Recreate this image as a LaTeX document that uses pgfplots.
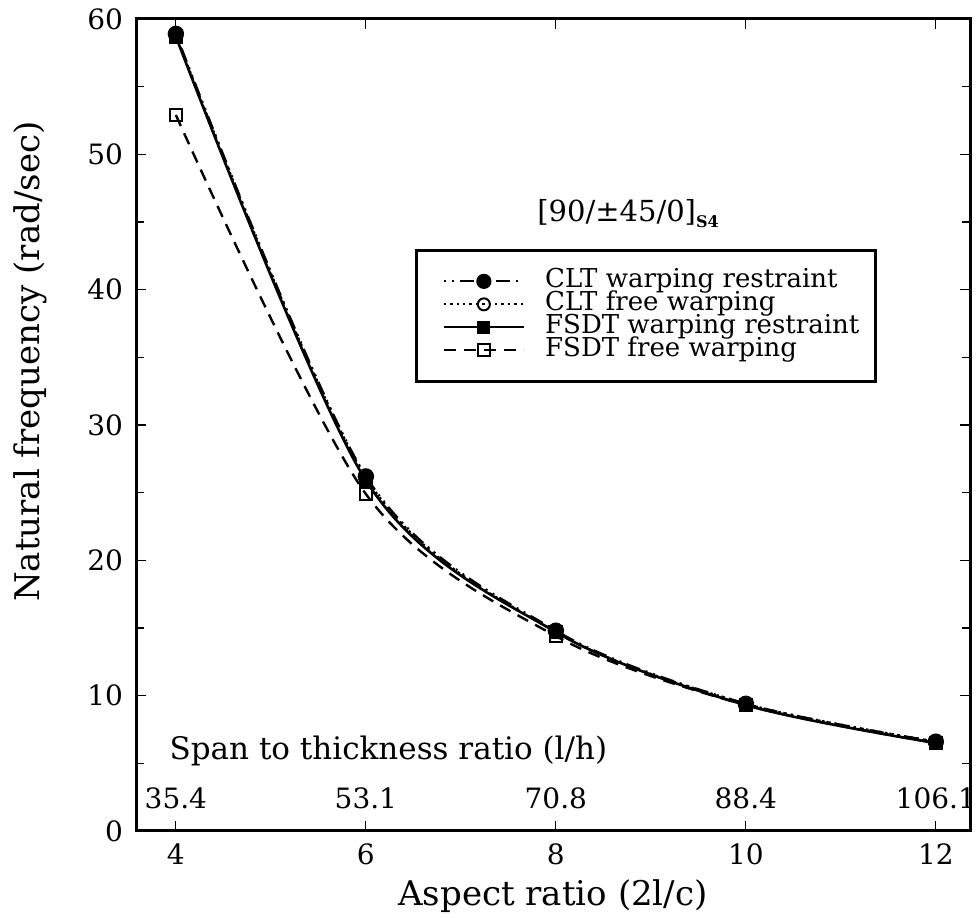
\documentclass[border=0pt]{standalone}
\usepackage{fontspec}
\setmainfont{DejaVu Serif}
\usepackage{pgfplots}
\pgfplotsset{compat=1.18}

\begin{document}
\begin{tikzpicture}
\begin{axis}[
  width=417pt, height=406pt,
  scale only axis,
  xmin=3.58, xmax=12.36,
  ymin=0, ymax=60,
  xtick={4,6,8,10,12},
  ytick={0,10,20,30,40,50,60},
  minor ytick={5,15,25,35,45,55},
  tick align=inside,
  major tick length=5pt,
  minor tick length=4pt,
  axis line style={line width=1.5pt},
  tick style={line width=0.6pt, black},
  every tick label/.append style={font=\fontsize{14}{16}\selectfont},
  xticklabel style={yshift=-3pt},
  yticklabel style={xshift=-3pt},
  /pgf/number format/assume math mode=true,
  xlabel={Aspect ratio (2l/c)},
  ylabel={Natural frequency (rad/sec)},
  label style={font=\fontsize{17}{20}\selectfont},
  xlabel style={at={(axis description cs:0.5,-0.08)}, anchor=center},
  ylabel style={at={(axis description cs:-0.127,0.578)}, anchor=center},
  legend style={
    at={(axis cs:6.52,43)}, anchor=north west,
    draw=black, line width=1.3pt,
    font=\fontsize{13}{14}\selectfont,
    inner xsep=6pt, inner ysep=10pt,
    row sep=0.5pt,
    nodes={inner xsep=2pt, inner ysep=0pt, text height=8.5pt, text depth=2.5pt},
  },
  legend cell align=left,
  legend image code/.code={
    \path (-7pt,0pt) (48pt,0pt);
    \draw[#1, line width=0.9pt] (0pt,0pt) -- (40pt,0pt);
    \draw[#1, solid, line width=0.6pt] plot coordinates {(20pt,0pt)};
  },
]

% CLT, warping restraint
\addplot[black, line width=1.2pt, smooth,
  dash pattern=on 1pt off 3pt on 1pt off 3pt on 7pt off 3pt,
  mark=*, mark size=3.5pt, mark options={solid, fill=black}]
  coordinates {(4,58.9) (6,26.2) (8,14.8) (10,9.4) (12,6.6)};
\addlegendentry{CLT warping restraint}

% CLT, free warping
\addplot[black, line width=1.2pt, smooth, dotted,
  mark=o, mark size=3pt, mark options={solid, line width=1pt}]
  coordinates {(4,58.8) (6,26.1) (8,14.7) (10,9.4) (12,6.6)};
\addlegendentry{CLT free warping}

% FSDT, warping restraint
\addplot[black, line width=1.3pt, smooth,
  mark=square*, mark size=3pt, mark options={solid, fill=black}]
  coordinates {(4,58.7) (6,25.9) (8,14.7) (10,9.3) (12,6.5)};
\addlegendentry{FSDT warping restraint}

% FSDT, free warping
\addplot[black, line width=1.2pt, smooth,
  dash pattern=on 6pt off 4pt,
  mark=square, mark size=3pt, mark options={solid, line width=1pt, fill=white}]
  coordinates {(4,52.9) (6,24.9) (8,14.4) (10,9.3) (12,6.5)};
\addlegendentry{FSDT free warping}

% secondary scale: span to thickness ratio
\node[anchor=west, font=\fontsize{15.5}{18}\selectfont] at (axis cs:3.86,5.9)
  {Span to thickness ratio (l/h)};
\foreach \xv/\lab in {4/35.4, 6/53.1, 8/70.8, 10/88.4, 12/106.1}{
  \edef\tmp{\noexpand\node[font=\noexpand\fontsize{14}{16}\noexpand\selectfont]
    at (axis cs:\xv,2.45) {\lab};}
  \tmp
}

% laminate stacking sequence
\node[font=\fontsize{14.5}{17}\selectfont] at (axis cs:8.76,45.6)
  {[90/±45/0]\raisebox{-0.4ex}{\fontsize{8}{9}\selectfont\bfseries S4}};

\end{axis}
\pgfresetboundingbox
\path ([shift={(-68pt,-43.5pt)}]current axis.south west)
  rectangle ([shift={(4pt,9.5pt)}]current axis.north east);
\end{tikzpicture}
\end{document}
